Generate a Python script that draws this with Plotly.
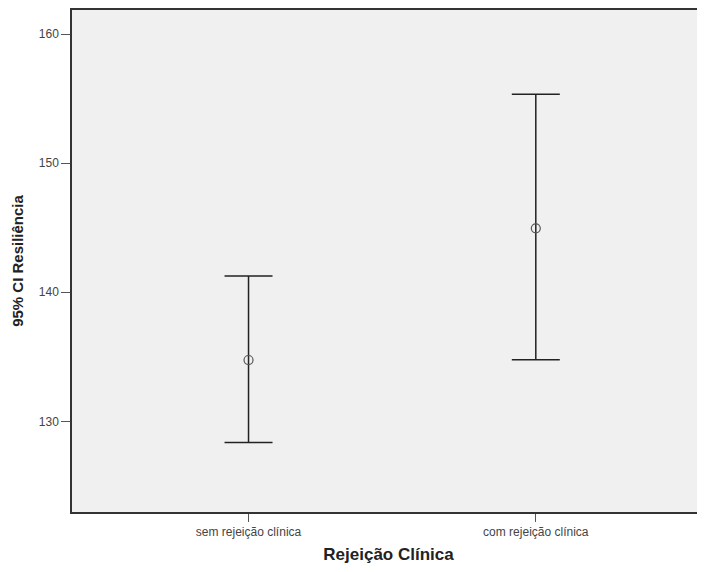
import plotly.graph_objects as go

categories = ["sem rejeição clínica", "com rejeição clínica"]
means = [134.75, 144.96]
lower = [128.35, 134.78]
upper = [141.26, 155.35]
y_ticks = [130, 140, 150, 160]

x_pos = list(range(len(categories)))
err_plus = [u - m for u, m in zip(upper, means)]
err_minus = [m - l for m, l in zip(means, lower)]

fig = go.Figure()
fig.add_trace(go.Scatter(
    x=x_pos, y=means, mode="markers",
    marker=dict(symbol="circle-open", size=9, color="#555555", line=dict(width=1.2, color="#555555")),
    error_y=dict(type="data", symmetric=False, array=err_plus, arrayminus=err_minus,
                 color="#222222", thickness=1.5, width=24),
    showlegend=False, hoverinfo="skip",
))

fig.update_layout(
    width=697, height=556,
    margin=dict(l=64, r=0, t=2, b=52),
    paper_bgcolor="white", plot_bgcolor="#f0f0f0",
    font=dict(family="Liberation Sans, Arial, sans-serif", size=12, color="#444444"),
    xaxis=dict(
        range=[-0.6145, 1.589], tickvals=x_pos, ticktext=categories,
        showgrid=False, zeroline=False, showline=True, linecolor="#333333", linewidth=1.5,
        mirror=True, ticks="outside", ticklen=8, tickcolor="#555555", tickwidth=1,
        tickfont=dict(size=12, color="#444444"),
        title=dict(text="<b>Rejeição Clínica</b>", font=dict(size=17, color="#222222"), standoff=10),
    ),
    yaxis=dict(
        range=[122.97, 161.88], tickvals=y_ticks,
        showgrid=False, zeroline=False, showline=True, linecolor="#333333", linewidth=1.5,
        mirror=False, ticks="outside", ticklen=9, tickcolor="#555555", tickwidth=1,
        tickfont=dict(size=12, color="#444444"),
        title=dict(text="<b>95% CI Resiliência</b>", font=dict(size=15, color="#222222"), standoff=12),
    ),
)

fig.write_html("out.html")
